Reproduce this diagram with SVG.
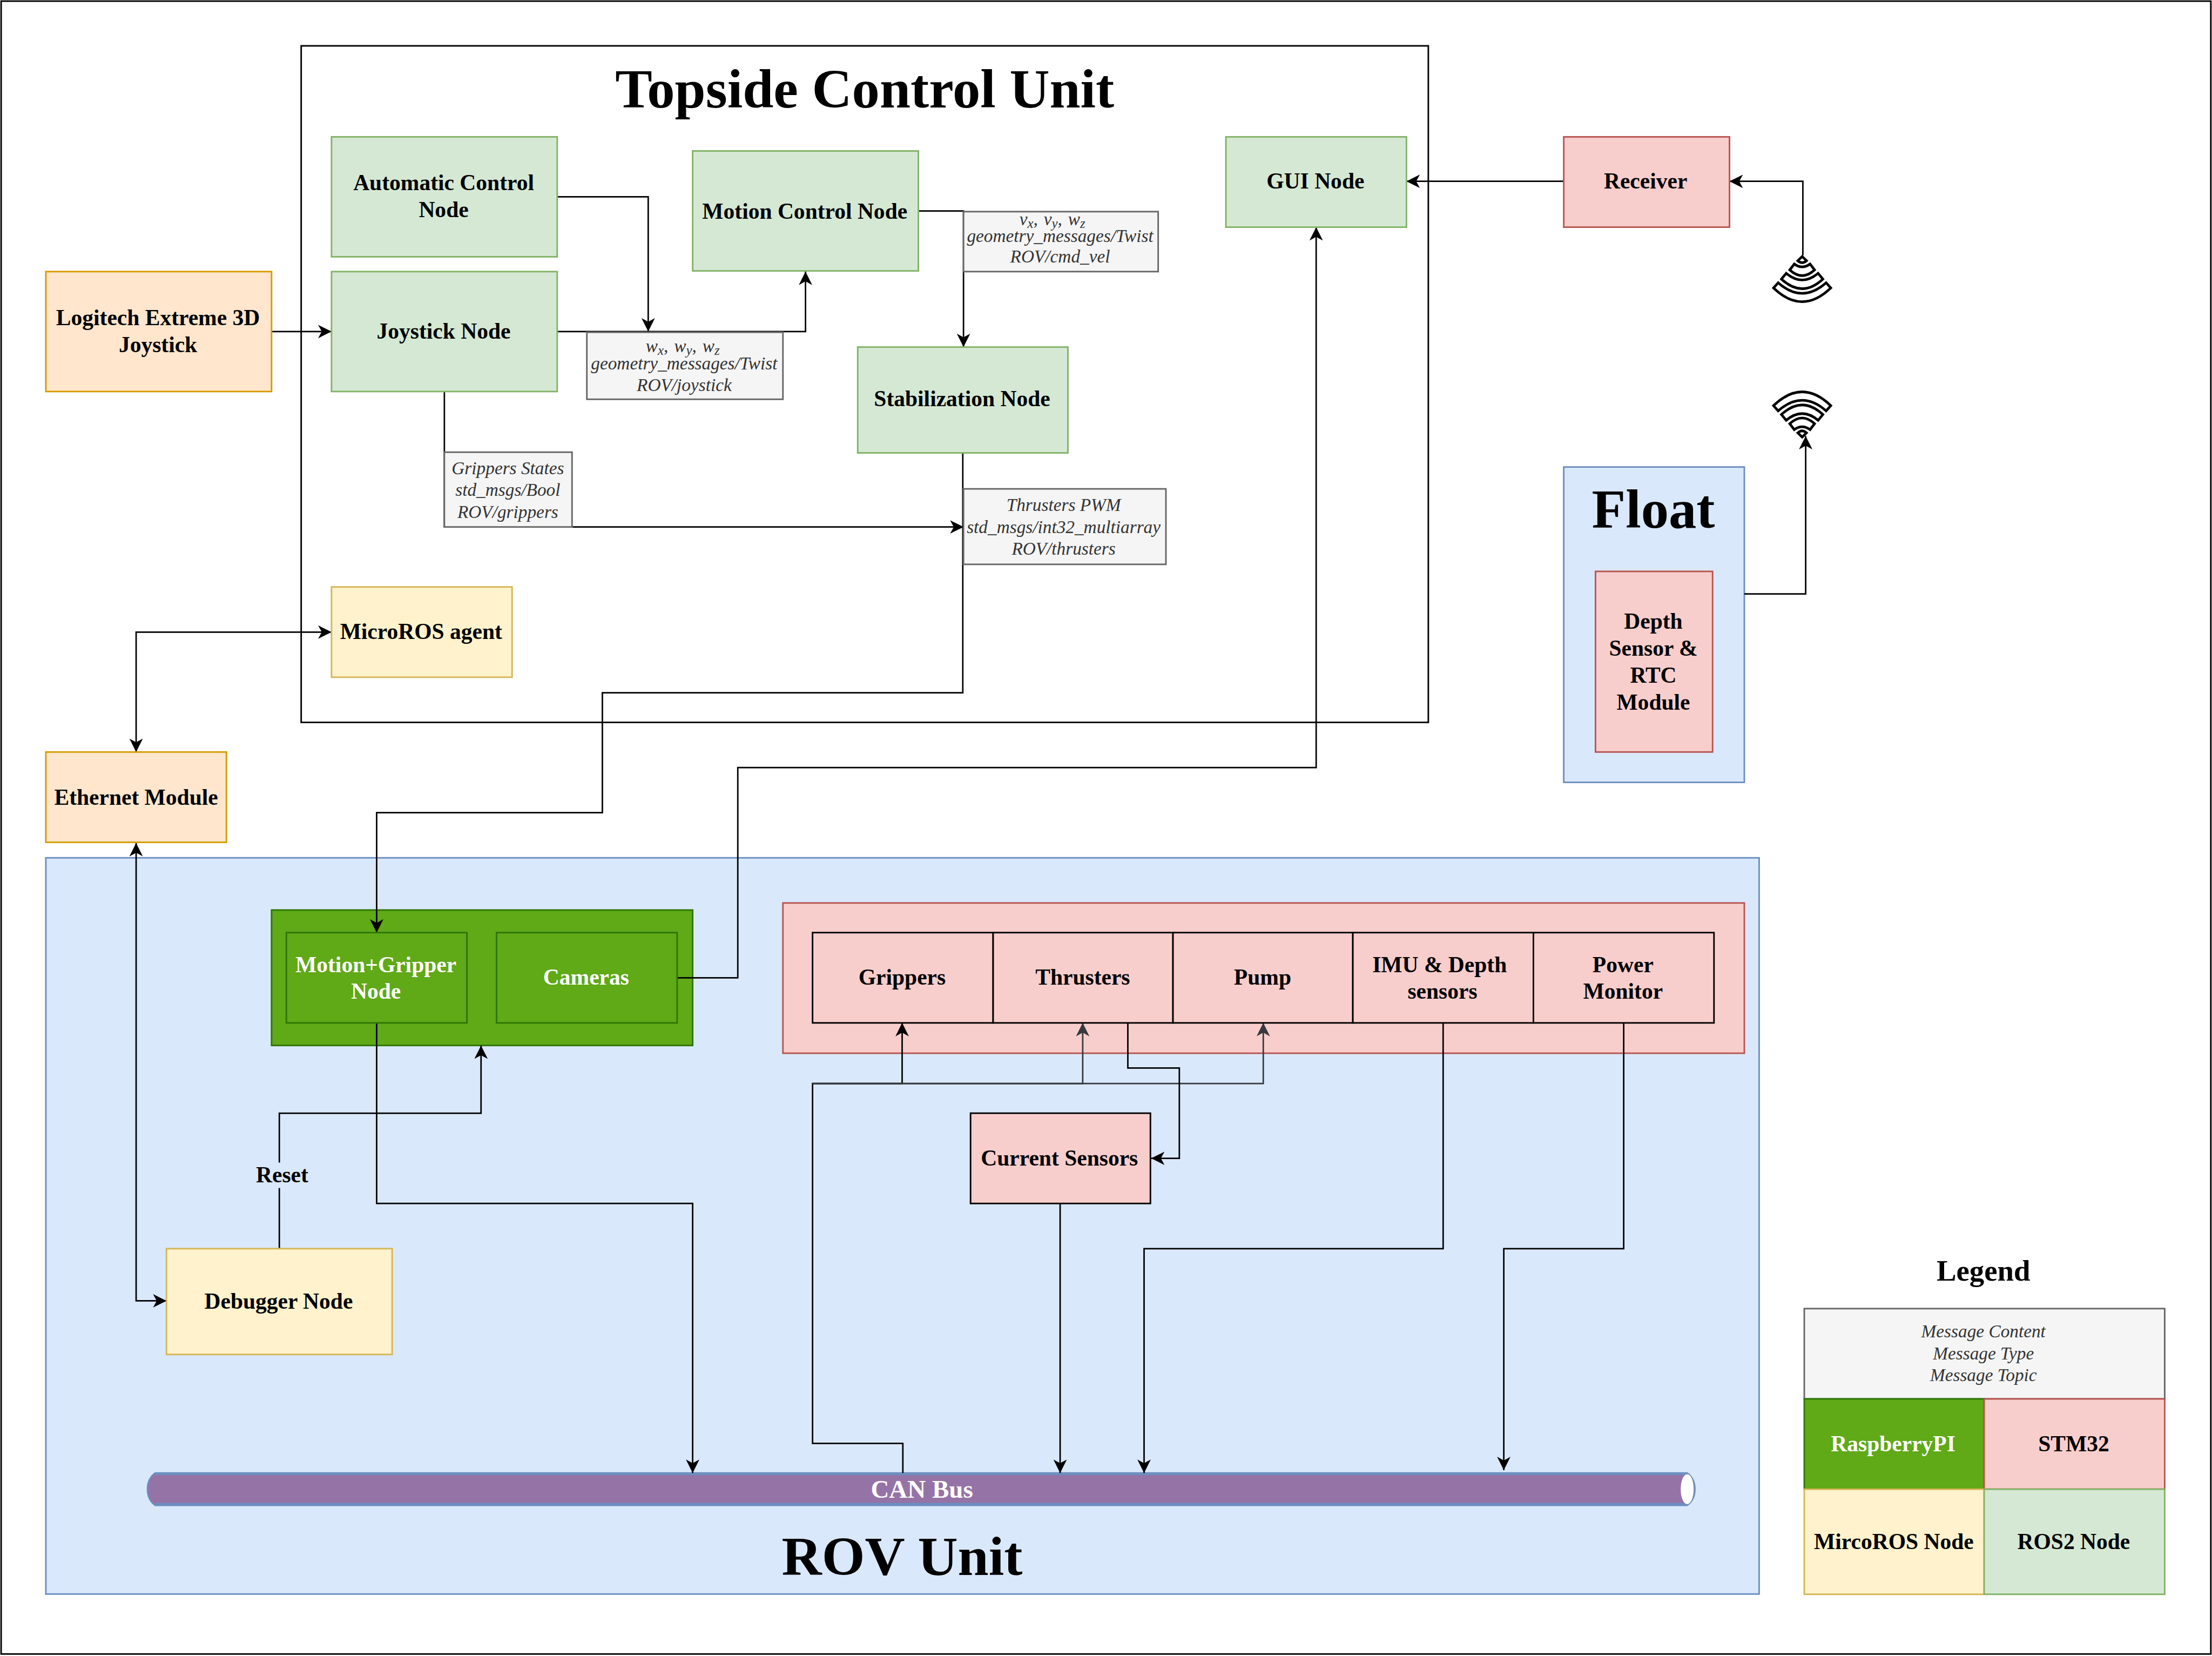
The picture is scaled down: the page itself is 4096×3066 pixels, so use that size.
<svg xmlns="http://www.w3.org/2000/svg" width="4096" height="3066" viewBox="0 0 4096 3066">
<style>
text{font-family:"Liberation Serif","Times New Roman",serif;text-anchor:middle}
.b{font-weight:bold;font-size:15.9px;fill:#000}
.w{font-weight:bold;font-size:15.9px;fill:#fff}
.t{font-weight:bold;font-size:39.3px;fill:#000}
.m{font-style:italic;font-size:12.75px;fill:#333}
.s{font-size:9.5px}
.g{fill:#d5e8d4;stroke:#82b366}
.o{fill:#ffe6cc;stroke:#d79b00}
.y{fill:#fff2cc;stroke:#d6b656}
.r{fill:#f8cecc;stroke:#b85450}
.u{fill:#dae8fc;stroke:#6c8ebf}
.p{fill:#60a917;stroke:#2d7600}
.e{fill:#f5f5f5;stroke:#666}
.k{fill:#f8cecc;stroke:#000}
.f{fill:#fff;stroke:#000}
.c{fill:none;stroke:#000;stroke-width:1.05}
.d{fill:none;stroke:#36393d;stroke-width:1.05}
rect{stroke-width:1.1}
</style>
<defs>
<marker id="a" markerUnits="userSpaceOnUse" markerWidth="10" markerHeight="10" refX="9.5" refY="4.75" orient="auto-start-reverse"><path d="M0,0L9.5,4.75L0,9.5L2.6,4.75Z" fill="#000"/></marker>
<marker id="ad" markerUnits="userSpaceOnUse" markerWidth="10" markerHeight="10" refX="9.5" refY="4.75" orient="auto"><path d="M0,0L9.5,4.75L0,9.5L2.6,4.75Z" fill="#36393d"/></marker>
<g id="wave" fill="#fff" stroke="#000" stroke-width="1.8" stroke-linejoin="miter">
<path d="M0,1.2L3.1,4.2Q0,7-3.1,4.2Z"/>
<path d="M-5.6,6.5Q0,10.6,5.6,6.5L8.8,10.7Q0,18.8-8.8,10.7Z"/>
<path d="M-11.3,13.1Q0,22.6,11.3,13.1L14.7,17.2Q0,30.8-14.7,17.2Z"/>
<path d="M-17,19.8Q0,34.8,17,19.8L20.3,23.5Q0,43-20.3,23.5Z"/>
</g>
</defs>
<g transform="scale(2.6122)">
<rect id="page" x=".8" y=".8" width="1566.4" height="1171.5" fill="#fff" stroke="#000"/>
<g id="topside"><rect class="f" x="213.5" y="32.5" width="799" height="479.5"/><text class="t" x="613" y="76.2">Topside Control Unit</text></g>
<g id="float"><rect class="u" x="1108.5" y="331" width="128" height="223.5"/><text class="t" x="1172" y="374.2">Float</text></g>
<g id="rov"><rect class="u" x="32.5" y="608" width="1214.5" height="521.8"/><text class="t" x="639.5" y="1116.2">ROV Unit</text></g>
<g id="raspberry"><rect class="p" x="192.5" y="645" width="298.5" height="96"/></g>
<g id="stm32"><rect class="r" x="555" y="640" width="681.5" height="106.5"/></g>
<g id="canbus">
<path d="M110,1044H1196Q1201.5,1048,1201.5,1055.5Q1201.5,1063,1196,1067H110Q104.5,1063,104.5,1055.5Q104.5,1048,110,1044Z" fill="#9673a6" stroke="#6c8ebf" stroke-width="1"/>
<path d="M110,1044.6H1196M110,1066.2H1196" stroke="#6c8ebf" stroke-width="2" fill="none"/>
<ellipse cx="1196" cy="1055.5" rx="4.6" ry="10.6" fill="#fff"/>
<text x="653.5" y="1061.5" style="font-weight:bold;font-size:18px;fill:#fff">CAN Bus</text>
</g>
<g id="connectors">
<path class="c" marker-end="url(#a)" d="M192.5,235H235"/>
<path class="c" marker-end="url(#a)" d="M395,139.5H459.5V235"/>
<path class="c" marker-end="url(#a)" d="M395,235H571V192.5"/>
<path class="c" marker-end="url(#a)" d="M651,149.5H683V246"/>
<path class="c" marker-end="url(#a)" d="M315,277.5V373.5H683"/>
<path class="c" marker-end="url(#a)" d="M682.5,321V491H427V576H267V661"/>
<path class="c" marker-end="url(#a)" d="M480,693H523V544H933V161"/>
<path class="c" marker-end="url(#a)" d="M1108.5,128.5H997"/>
<path class="c" marker-end="url(#a)" d="M1278,181V128.5H1226"/>
<path class="c" marker-end="url(#a)" d="M1236.5,421H1280V309"/>
<path class="c" marker-start="url(#a)" marker-end="url(#a)" d="M235,448H96.5V533"/>
<path class="c" marker-start="url(#a)" marker-end="url(#a)" d="M96.5,597.5V922H118"/>
<path class="c" marker-end="url(#a)" d="M267,725V853H491V1044"/>
<path class="c" marker-end="url(#a)" d="M198,885V789H341V741"/>
<path class="c" marker-end="url(#a)" d="M640,1044V1023H576V768H639.5V725"/>
<path class="d" marker-end="url(#ad)" d="M576,768H767.5V725"/>
<path class="d" marker-end="url(#ad)" d="M576,768H895.5V725"/>
<path class="c" marker-end="url(#a)" d="M799.5,725V757H836V821H816"/>
<path class="c" marker-end="url(#a)" d="M751.5,853V1044"/>
<path class="c" marker-end="url(#a)" d="M1023,725V885H811V1044"/>
<path class="c" marker-end="url(#a)" d="M1151,725V885H1066V1042"/>
<rect x="181" y="824" width="38" height="18" fill="#dae8fc" stroke="none"/>
<text class="b" x="200" y="838">Reset</text>
</g>
<use id="antenna-rx" href="#wave" transform="translate(1277.5,180.6)"/>
<use id="antenna-tx" href="#wave" transform="translate(1277.5,311) scale(1,-1)"/>
<g id="automatic"><rect class="g" x="235" y="97" width="160" height="85"/><text class="b" x="314.5" y="134.7">Automatic Control</text><text class="b" x="314.5" y="153.9">Node</text></g>
<g id="joystick"><rect class="g" x="235" y="192.5" width="160" height="85"/><text class="b" x="314.5" y="240">Joystick Node</text></g>
<g id="logitech"><rect class="o" x="32.5" y="192.5" width="160" height="85"/><text class="b" x="112" y="230.5">Logitech Extreme 3D</text><text class="b" x="112" y="249.7">Joystick</text></g>
<g id="motion"><rect class="g" x="491" y="107" width="160" height="85"/><text class="b" x="570.5" y="155">Motion Control Node</text></g>
<g id="gui"><rect class="g" x="869" y="97" width="128" height="64"/><text class="b" x="932.5" y="133.5">GUI Node</text></g>
<g id="receiver"><rect class="r" x="1108.5" y="97" width="117.5" height="64"/><text class="b" x="1166.5" y="133.5">Receiver</text></g>
<g id="stabilization"><rect class="g" x="608" y="246" width="149" height="75"/><text class="b" x="682" y="288">Stabilization Node</text></g>
<g id="microros"><rect class="y" x="235" y="416" width="128" height="64"/><text class="b" x="298.5" y="453">MicroROS agent</text></g>
<g id="ethernet"><rect class="o" x="32.5" y="533" width="128" height="64"/><text class="b" x="96.5" y="570.5">Ethernet Module</text></g>
<g id="depth"><rect class="r" x="1131" y="405" width="83" height="128"/><text class="b" x="1172" y="445.5">Depth</text><text class="b" x="1172" y="464.7">Sensor &amp;</text><text class="b" x="1172" y="484">RTC</text><text class="b" x="1172" y="503">Module</text></g>
<g id="gripper-node"><rect class="p" x="203" y="661" width="128" height="64"/><text class="w" x="266.5" y="689">Motion+Gripper</text><text class="w" x="266.5" y="708">Node</text></g>
<g id="cameras"><rect class="p" x="352" y="661" width="128" height="64"/><text class="w" x="415.5" y="698">Cameras</text></g>
<g id="grippers"><rect class="k" x="576" y="661" width="128" height="64"/><text class="b" x="639.5" y="698">Grippers</text></g>
<g id="thrusters"><rect class="k" x="704" y="661" width="127.5" height="64"/><text class="b" x="767.5" y="698">Thrusters</text></g>
<g id="pump"><rect class="k" x="831.5" y="661" width="127.5" height="64"/><text class="b" x="895" y="698">Pump</text></g>
<g id="imu"><rect class="k" x="959" y="661" width="128" height="64"/><text class="b" x="1020.5" y="689">IMU &amp; Depth</text><text class="b" x="1022.5" y="708">sensors</text></g>
<g id="power"><rect class="k" x="1087" y="661" width="128" height="64"/><text class="b" x="1150.5" y="689">Power</text><text class="b" x="1150.5" y="708">Monitor</text></g>
<g id="current"><rect class="k" x="688" y="789" width="127.5" height="64"/><text class="b" x="751" y="826">Current Sensors</text></g>
<g id="debugger"><rect class="y" x="118" y="885" width="160" height="75"/><text class="b" x="197.5" y="927.5">Debugger Node</text></g>
<g id="msg-cmdvel"><rect class="e" x="683" y="150" width="138" height="42.5"/><text class="m" x="746" y="159.5" style="word-spacing:1px">v<tspan class="s" dy="2">x</tspan><tspan dy="-2">, v</tspan><tspan class="s" dy="2">y</tspan><tspan dy="-2">, w</tspan><tspan class="s" dy="2">z</tspan></text><text class="m" x="751.5" y="171.5">geometry_messages/Twist</text><text class="m" x="751.5" y="186">ROV/cmd_vel</text></g>
<g id="msg-joystick"><rect class="e" x="416" y="235.5" width="139" height="47.5"/><text class="m" x="484" y="249.5" style="word-spacing:1px">w<tspan class="s" dy="2">x</tspan><tspan dy="-2">, w</tspan><tspan class="s" dy="2">y</tspan><tspan dy="-2">, w</tspan><tspan class="s" dy="2">z</tspan></text><text class="m" x="485" y="262">geometry_messages/Twist</text><text class="m" x="485" y="277">ROV/joystick</text></g>
<g id="msg-grippers"><rect class="e" x="315" y="320.5" width="90.5" height="53"/><text class="m" x="360" y="336">Grippers States</text><text class="m" x="360" y="351.5">std_msgs/Bool</text><text class="m" x="360" y="367">ROV/grippers</text></g>
<g id="msg-thrusters"><rect class="e" x="683" y="346.5" width="143.5" height="53.5"/><text class="m" x="754" y="362">Thrusters PWM</text><text class="m" x="754" y="378">std_msgs/int32_multiarray</text><text class="m" x="754" y="393">ROV/thrusters</text></g>
<g id="legend">
<text x="1406" y="907.5" style="font-weight:bold;font-size:21px">Legend</text>
<rect class="e" x="1279" y="927.5" width="255.5" height="64"/>
<text class="m" x="1406" y="948">Message Content</text><text class="m" x="1406" y="963.5">Message Type</text><text class="m" x="1406" y="979">Message Topic</text>
<rect class="p" x="1279" y="991.5" width="127.5" height="64"/><text class="w" x="1342" y="1028.5">RaspberryPI</text>
<rect class="r" x="1406.5" y="991.5" width="128" height="64"/><text class="b" x="1470" y="1028.5">STM32</text>
<rect class="y" x="1279" y="1055.5" width="127.5" height="74.5"/><text class="b" x="1342.5" y="1098">MircoROS Node</text>
<rect class="g" x="1406.5" y="1055.5" width="128" height="74.5"/><text class="b" x="1470" y="1098">ROS2 Node</text>
</g>
</g>
</svg>
